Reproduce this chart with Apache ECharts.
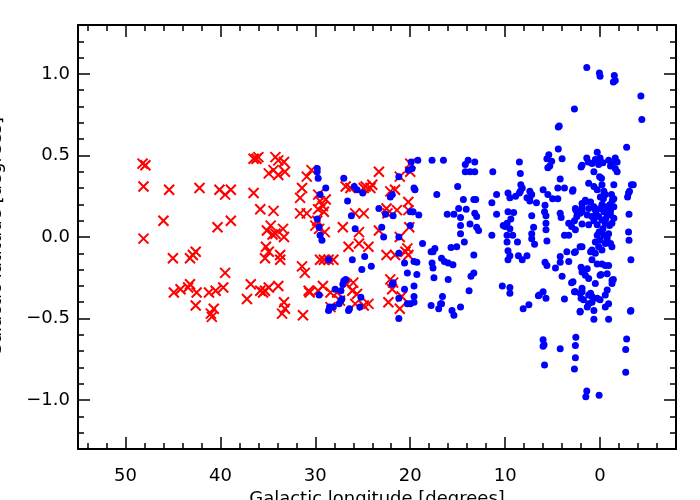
<!DOCTYPE html>
<html>
<head>
<meta charset="utf-8">
<script src="https://cdn.jsdelivr.net/npm/echarts@6/dist/echarts.min.js"></script>
<style>
  html, body { margin: 0; padding: 0; background: #fff; }
  #chart { width: 700px; height: 500px; }
</style>
</head>
<body>
<div id="chart"></div>
<script>
// red crosses: [longitude, latitude]
const redPoints = [
  [48.2, 0.45], [47.9, 0.44], [48.1, 0.31], [45.4, 0.29], [42.2, 0.30], [40.1, 0.29], [39.5, 0.26], [38.9, 0.29],
  [36.5, 0.48], [36.2, 0.48], [36.0, 0.49], [36.5, 0.27], [35.8, 0.17],
  [46.0, 0.10], [40.3, 0.06], [38.9, 0.10], [48.1, -0.01],
  [45.0, -0.13], [43.2, -0.13], [42.9, -0.11], [42.6, -0.09], [39.5, -0.22],
  [44.9, -0.34], [44.2, -0.32], [43.4, -0.31], [43.2, -0.29], [42.5, -0.34], [42.6, -0.42], [41.2, -0.34],
  [40.5, -0.33], [39.7, -0.31], [40.7, -0.44], [40.9, -0.49], [41.0, -0.47],
  [36.8, -0.29], [37.2, -0.38], [35.8, -0.33], [35.3, -0.33], [34.9, -0.31], [35.5, -0.34], [33.9, -0.30],
  [33.3, -0.40], [33.2, -0.44], [33.5, -0.47],
  [34.2, 0.49], [33.9, 0.47], [33.3, 0.46], [34.9, 0.39], [34.4, 0.41], [33.9, 0.38], [33.2, 0.40],
  [34.4, 0.16], [34.7, 0.07], [35.1, 0.04], [34.2, 0.02], [33.3, 0.00], [34.5, 0.015], [33.4, 0.05],
  [35.2, -0.06], [34.9, -0.09], [35.3, -0.13], [33.7, -0.14], [33.7, -0.11],
  [31.3, -0.48], [31.4, -0.18], [31.1, -0.22], [30.7, -0.33], [29.7, -0.33], [30.6, -0.34],
  [31.4, 0.30], [31.6, 0.24], [30.9, 0.37], [30.4, 0.41], [29.7, 0.26], [29.5, 0.22], [28.9, 0.23], [29.2, 0.19], [29.7, 0.17],
  [31.6, 0.145], [30.9, 0.145], [29.8, 0.10], [29.1, 0.155], [30.0, 0.07], [29.6, 0.05], [29.0, 0.03],
  [29.5, -0.14], [29.1, -0.14], [28.6, -0.14], [28.1, -0.14], [29.2, -0.30], [28.4, -0.34], [27.7, -0.34], [27.4, -0.39],
  [26.8, 0.31], [26.3, 0.30], [24.9, 0.30], [24.7, 0.31], [24.2, 0.30], [24.0, 0.32], [23.3, 0.40],
  [25.8, 0.145], [24.9, 0.145], [27.1, 0.06], [25.4, 0.03], [26.5, -0.06], [25.4, -0.04], [24.4, -0.06],
  [26.7, -0.29], [26.0, -0.28], [26.1, -0.33], [25.6, -0.35], [25.8, -0.41], [24.9, -0.42], [24.4, -0.41], [28.4, -0.43],
  [22.1, 0.28], [21.6, 0.29], [22.5, 0.175], [21.4, 0.165], [20.2, 0.215], [20.2, 0.165], [23.3, 0.04],
  [22.5, -0.11], [21.6, -0.11], [20.5, -0.09], [20.2, -0.11], [20.3, -0.07], [22.1, -0.26], [21.8, -0.28],
  [21.9, -0.32], [22.3, -0.40], [21.1, -0.44], [20.9, -0.365],
  [21.1, 0.37], [20.0, 0.45], [20.0, 0.40], [22.4, 0.145], [21.1, 0.00], [20.1, 0.06]
];

// blue dots: [longitude, latitude]
const bluePoints = [
  [29.8, 0.42], [29.8, 0.40], [29.7, 0.36], [28.9, 0.30], [29.5, 0.26], [29.8, 0.11], [29.6, 0.06], [29.5, 0.01],
  [29.3, -0.02], [28.6, -0.14], [29.6, -0.355],
  [27.0, 0.36], [25.9, 0.31], [25.6, 0.29], [25.0, 0.27], [26.6, 0.22], [26.2, 0.13], [25.8, 0.05], [24.8, -0.12],
  [26.1, -0.14], [25.1, -0.20], [24.1, -0.18],
  [27.9, -0.32], [27.3, -0.33], [27.1, -0.29], [26.8, -0.26], [27.3, -0.39], [27.5, -0.41], [28.1, -0.43], [28.6, -0.45],
  [26.4, -0.44], [25.2, -0.37], [25.3, -0.43], [28.5, -0.43], [27.2, -0.38], [26.5, -0.45], [27.0, -0.27],
  [23.3, 0.175], [22.6, 0.14], [21.8, 0.13], [23.0, 0.06], [22.8, 0.00], [22.1, 0.245], [21.9, 0.26], [21.2, 0.37],
  [20.2, 0.41], [19.9, 0.46], [19.8, 0.42], [19.6, 0.30], [20.0, 0.155], [20.0, 0.07], [21.2, 0.00], [21.2, -0.10],
  [20.6, -0.16], [19.6, -0.15], [20.3, -0.22], [21.9, -0.29], [21.8, -0.28], [20.6, -0.32], [21.2, -0.375],
  [20.3, -0.41], [20.0, -0.41], [21.2, -0.50], [19.6, -0.30],
  [19.2, 0.47], [17.7, 0.47], [16.5, 0.47], [19.5, 0.29], [17.2, 0.26], [19.1, 0.135], [19.7, 0.155],
  [18.7, -0.04], [17.6, -0.09], [17.4, -0.07], [17.8, -0.09], [19.3, -0.155], [19.3, -0.23], [17.7, -0.16], [17.6, -0.19],
  [17.5, -0.25], [19.6, -0.365], [19.6, -0.40], [17.8, -0.42], [17.0, -0.44], [16.7, -0.41], [16.6, -0.365], [16.8, -0.41],
  [15.0, 0.31], [14.4, 0.23], [14.9, 0.175], [14.1, 0.17], [13.3, 0.23], [13.1, 0.23], [16.1, 0.14], [15.4, 0.14],
  [14.7, 0.12], [13.2, 0.145], [13.0, 0.125], [14.7, 0.07], [13.7, 0.08], [13.0, 0.06], [12.8, 0.04], [14.7, 0.02],
  [14.3, -0.03], [15.7, -0.065], [15.1, -0.06], [16.7, -0.13], [16.4, -0.15], [16.0, -0.16], [15.5, -0.17], [13.3, -0.11],
  [16.0, -0.26], [13.6, -0.24], [13.3, -0.22], [13.8, -0.33], [15.6, -0.45], [15.4, -0.48], [14.7, -0.43],
  [14.2, 0.445], [13.9, 0.47], [13.2, 0.46], [14.2, 0.40], [13.7, 0.40], [13.2, 0.40],
  [11.3, 0.40], [8.5, 0.46], [8.4, 0.39], [8.35, 0.32], [8.4, 0.28], [10.9, 0.26], [11.4, 0.21], [10.9, 0.14],
  [9.7, 0.27], [9.5, 0.24], [8.9, 0.25], [8.5, 0.27], [8.2, 0.30], [7.7, 0.24], [7.4, 0.24], [7.2, 0.26], [6.7, 0.21],
  [7.4, 0.22], [7.4, 0.28], [9.7, 0.155], [9.1, 0.15], [9.4, 0.11], [7.2, 0.13], [9.8, 0.085], [10.0, 0.065], [10.2, 0.07],
  [9.5, 0.05], [11.4, 0.01], [9.8, 0.01], [9.2, 0.01], [9.8, -0.03], [8.7, -0.03], [7.0, 0.06], [7.2, 0.02], [7.2, -0.01],
  [6.9, -0.045], [9.7, -0.085], [9.5, -0.115], [9.7, -0.14], [8.6, -0.115], [8.2, -0.14], [7.7, -0.115],
  [10.3, -0.30], [9.5, -0.31], [9.5, -0.345], [8.1, -0.44], [7.5, -0.415], [6.5, -0.36], [6.0, -0.335], [6.4, -0.355], [5.7, -0.375],
  [4.4, 0.54], [4.4, 0.675], [4.3, 0.68], [2.7, 0.785], [5.4, 0.505], [5.6, 0.48], [5.1, 0.465], [4.0, 0.48], [5.5, 0.425],
  [5.3, 0.435], [4.2, 0.355], [6.0, 0.29], [5.5, 0.26], [5.0, 0.235], [4.45, 0.235], [4.45, 0.30], [3.75, 0.30], [2.9, 0.28],
  [5.8, 0.195], [5.85, 0.155], [5.7, 0.13], [4.2, 0.145], [4.1, 0.12], [3.3, 0.085], [3.0, 0.065], [2.6, 0.045], [2.7, 0.10],
  [5.7, 0.085], [5.7, 0.045], [3.75, 0.01], [3.3, 0.01], [5.6, -0.025], [3.5, -0.09], [2.7, -0.095], [4.2, -0.12],
  [4.2, -0.155], [3.3, -0.15], [5.8, -0.155], [5.6, -0.175], [4.7, -0.19], [4.0, -0.24], [3.0, -0.28], [3.75, -0.38],
  [2.7, -0.335], [2.85, -0.275],
  [6.0, -0.63], [5.9, -0.66], [6.0, -0.67], [5.85, -0.785], [4.2, -0.685], [2.55, -0.615], [2.6, -0.665], [2.6, -0.74],
  [2.7, -0.81], [1.4, -0.945], [1.5, -0.98], [0.1, -0.97], [-2.8, -0.625], [-2.7, -0.69], [-2.7, -0.83], [-3.2, -0.455],
  [1.4, 1.04], [0.07, 1.005], [0.0, 0.985], [-1.5, 0.99], [-1.6, 0.96], [-1.4, 0.95], [-4.3, 0.865], [-4.4, 0.72], [-2.8, 0.55],
  [0.3, 0.52], [1.4, 0.485], [0.5, 0.475], [0.0, 0.485], [-0.3, 0.455], [0.15, 0.445], [0.85, 0.45], [1.25, 0.46], [2.0, 0.43],
  [-0.9, 0.47], [-1.6, 0.485], [-1.8, 0.46], [-1.1, 0.435], [-1.6, 0.42], [-1.2, 0.45], [0.65, 0.40], [0.05, 0.37],
  [-0.15, 0.36], [-1.8, 0.40], [1.9, 0.44],
  [1.2, 0.33], [0.65, 0.31], [0.3, 0.29], [-0.2, 0.32], [-0.4, 0.28], [-0.55, 0.26], [-0.03, 0.245], [-1.45, 0.32],
  [2.85, 0.29], [-1.2, 0.26], [-1.3, 0.225], [-1.05, 0.20], [-0.35, 0.235], [-0.7, 0.185], [-1.45, 0.235], [-1.45, 0.185],
  [-3.5, 0.32], [-3.0, 0.27], [-2.9, 0.245], [-3.3, 0.32], [-3.1, 0.28],
  [2.55, 0.165], [1.9, 0.18], [1.6, 0.215], [2.1, 0.145], [2.45, 0.125],
  [1.55, 0.225], [1.9, 0.205], [1.0, 0.215], [0.65, 0.185], [1.2, 0.175], [0.5, 0.165], [0.0, 0.175], [-0.4, 0.155],
  [-0.75, 0.135], [-1.1, 0.135], [-1.45, 0.115], [0.15, 0.125], [0.85, 0.125], [1.35, 0.135], [1.9, 0.155], [2.4, 0.145], [2.6, 0.175],
  [1.9, 0.08], [1.2, 0.075], [0.3, 0.075], [-0.55, 0.085], [-1.25, 0.085], [-0.2, 0.105], [0.65, 0.10],
  [-0.9, 0.02], [-0.3, 0.05], [0.1, 0.03], [-1.0, 0.07], [-0.6, 0.11], [0.4, 0.14], [-1.1, 0.16], [-0.2, 0.20],
  [0.3, 0.01], [-0.4, 0.01], [-0.75, -0.01], [0.0, -0.02], [0.5, -0.03], [-0.55, -0.04], [-1.1, -0.04], [-1.25, -0.06],
  [0.15, -0.06], [1.0, -0.09], [0.85, -0.08], [-0.2, -0.08], [0.5, -0.10],
  [0.85, -0.14], [0.3, -0.165], [-0.2, -0.165], [-0.55, -0.175], [-0.9, -0.175], [2.1, -0.06], [2.6, -0.09], [1.9, -0.06],
  [2.0, -0.185], [1.35, -0.195], [1.9, -0.215], [1.55, -0.235], [1.2, -0.255], [0.5, -0.285], [0.0, -0.235], [-0.75, -0.225],
  [-1.26, -0.265], [-1.26, -0.285], [-1.4, -0.26], [-0.1, -0.23],
  [2.6, -0.335], [2.1, -0.345], [1.9, -0.315], [1.0, -0.345], [0.85, -0.365], [0.85, -0.40], [1.2, -0.41], [0.3, -0.375],
  [0.0, -0.385], [-0.55, -0.355], [-0.75, -0.325], [-0.9, -0.41], [-0.55, -0.43], [1.35, -0.43], [0.65, -0.45], [2.1, -0.46],
  [0.65, -0.505], [-0.9, -0.505], [1.75, -0.385], [2.1, -0.455], [1.9, -0.335], [1.2, -0.355], [2.0, -0.375],
  [-3.0, 0.03], [-3.05, -0.02], [-3.25, -0.14], [-3.25, -0.45], [-3.05, 0.14]
];

const xMajorTicks = [50, 40, 30, 20, 10, 0];
const xMinorTicks = [54, 52, 48, 46, 44, 42, 38, 36, 34, 32, 28, 26, 24, 22, 18, 16, 14, 12, 8, 6, 4, 2, -2, -4, -6];
const yMajorTicks = [-1.0, -0.5, 0.0, 0.5, 1.0];
const yMinorTicks = [-1.2, -1.1, -0.9, -0.8, -0.7, -0.6, -0.4, -0.3, -0.2, -0.1,
  0.1, 0.2, 0.3, 0.4, 0.6, 0.7, 0.8, 0.9, 1.1, 1.2];

const font = 'DejaVu Sans';
const chart = echarts.init(document.getElementById('chart'));

function xAxis(position, ticks, len, withLabels) {
  return {
    type: 'value',
    position: position,
    min: -8,
    max: 55,
    inverse: true,
    name: withLabels ? 'Galactic longitude [degrees]' : '',
    nameLocation: 'middle',
    nameGap: 41,
    nameTextStyle: { fontFamily: font, fontSize: 18, color: '#000' },
    axisLine: { show: len > 8, onZero: false, lineStyle: { color: '#000', width: 2 } },
    axisTick: { show: true, inside: true, length: len, customValues: ticks, lineStyle: { color: '#000', width: 1.5 } },
    axisLabel: {
      show: withLabels, customValues: xMajorTicks, margin: 18,
      fontFamily: font, fontSize: 18, color: '#000',
      formatter: (v) => String(v)
    },
    splitLine: { show: false }
  };
}

function yAxis(position, ticks, len, withLabels) {
  return {
    type: 'value',
    position: position,
    min: -1.3,
    max: 1.3,
    name: withLabels ? 'Galactic latitude [degrees]' : '',
    nameLocation: 'middle',
    nameGap: 73,
    nameTextStyle: { fontFamily: font, fontSize: 18, color: '#000' },
    axisLine: { show: len > 8, onZero: false, lineStyle: { color: '#000', width: 2 } },
    axisTick: { show: true, inside: true, length: len, customValues: ticks, lineStyle: { color: '#000', width: 1.5 } },
    axisLabel: {
      show: withLabels, customValues: yMajorTicks, margin: 8,
      fontFamily: font, fontSize: 18, color: '#000',
      formatter: (v) => v.toFixed(1).replace('-', '\u2212')
    },
    splitLine: { show: false }
  };
}

chart.setOption({
  animation: false,
  backgroundColor: '#fff',
  grid: { left: 78, right: 24, top: 25, bottom: 51, containLabel: false, outerBoundsMode: 'none' },
  xAxis: [
    xAxis('bottom', xMajorTicks, 12, true),
    xAxis('bottom', xMinorTicks, 6, false),
    xAxis('top', xMajorTicks, 12, false),
    xAxis('top', xMinorTicks, 6, false)
  ],
  yAxis: [
    yAxis('left', yMajorTicks, 12, true),
    yAxis('left', yMinorTicks, 6, false),
    yAxis('right', yMajorTicks, 12, false),
    yAxis('right', yMinorTicks, 6, false)
  ],
  series: [
    {
      type: 'scatter',
      data: redPoints,
      symbol: 'path://M0,0L10,10M10,0L0,10',
      symbolSize: 10,
      itemStyle: { color: 'none', borderColor: '#ff0000', borderWidth: 2, opacity: 1 },
      silent: true
    },
    {
      type: 'scatter',
      data: bluePoints,
      symbol: 'circle',
      symbolSize: 7,
      itemStyle: { color: '#0000ff', opacity: 1 },
      silent: true
    }
  ]
});
</script>
</body>
</html>
